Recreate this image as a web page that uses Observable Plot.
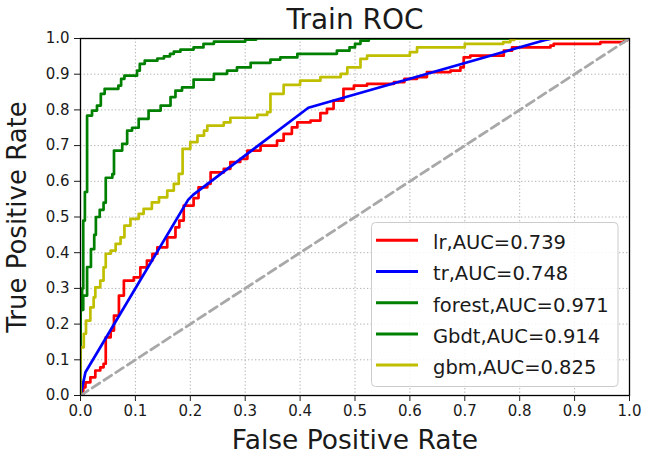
<!DOCTYPE html>
<html>
<head>
<meta charset="utf-8">
<script src="https://cdn.jsdelivr.net/npm/d3@7"></script>
<script src="https://cdn.jsdelivr.net/npm/@observablehq/plot@0.6"></script>
<style>
  html, body { margin: 0; padding: 0; background: #fff; }
  #chart { width: 648px; height: 457px; }
</style>
</head>
<body>
<div id="chart"></div>
<script>
// ---- data ----
const seriesNames = ["lr", "tr", "forest", "Gbdt", "gbm"];
const aucValues = [0.739, 0.748, 0.971, 0.914, 0.825];
const tickValues = [0.0, 0.1, 0.2, 0.3, 0.4, 0.5, 0.6, 0.7, 0.8, 0.9, 1.0];

// [fpr, tpr] pairs — step series list (rise position, new level)
const lrPoints = [[0,0],[0.005,0.023],[0.009,0.037],[0.018,0.051],[0.027,0.07],[0.036,0.079],[0.042,0.089],[0.046,0.163],[0.055,0.182],[0.061,0.224],[0.07,0.28],[0.079,0.322],[0.097,0.331],[0.109,0.359],[0.121,0.378],[0.131,0.397],[0.14,0.415],[0.158,0.443],[0.173,0.471],[0.18,0.49],[0.188,0.532],[0.206,0.553],[0.215,0.583],[0.231,0.593],[0.237,0.625],[0.261,0.635],[0.273,0.654],[0.291,0.663],[0.304,0.686],[0.328,0.70],[0.358,0.714],[0.37,0.733],[0.385,0.751],[0.395,0.765],[0.419,0.77],[0.437,0.791],[0.449,0.803],[0.461,0.826],[0.479,0.859],[0.498,0.868],[0.522,0.873],[0.571,0.878],[0.59,0.887],[0.613,0.892],[0.631,0.906],[0.674,0.91],[0.692,0.919],[0.698,0.947],[0.71,0.952],[0.771,0.966],[0.786,0.975],[0.856,0.98],[0.862,0.985],[0.947,0.99],[0.99,0.995],[0.996,1.0],[1,1]];
const trPoints = [[0,0],[0.009,0.065],[0.196,0.548],[0.205,0.562],[0.415,0.806],[0.845,0.995],[0.86,1.0],[1,1]];
const forestPoints = [[0,0],[0,0.24],[0.003,0.30],[0.005,0.49],[0.008,0.57],[0.012,0.784],[0.021,0.798],[0.03,0.812],[0.037,0.845],[0.044,0.859],[0.069,0.868],[0.074,0.887],[0.08,0.896],[0.103,0.91],[0.108,0.929],[0.117,0.938],[0.14,0.944],[0.152,0.95],[0.163,0.957],[0.17,0.963],[0.182,0.969],[0.206,0.975],[0.224,0.985],[0.243,0.991],[0.30,0.997],[0.32,1.0],[1,1]];
const gbdtPoints = [[0,0],[0,0.24],[0.005,0.28],[0.012,0.36],[0.019,0.41],[0.025,0.45],[0.028,0.50],[0.035,0.52],[0.042,0.54],[0.046,0.61],[0.058,0.62],[0.061,0.686],[0.076,0.705],[0.085,0.742],[0.094,0.75],[0.106,0.775],[0.124,0.798],[0.146,0.812],[0.164,0.836],[0.173,0.854],[0.185,0.863],[0.206,0.885],[0.243,0.901],[0.267,0.91],[0.285,0.919],[0.31,0.932],[0.346,0.941],[0.364,0.947],[0.395,0.957],[0.467,0.966],[0.49,0.975],[0.5,0.985],[0.51,0.994],[0.525,1.0],[1,1]];
const gbmPoints = [[0,0],[0,0.135],[0.006,0.173],[0.01,0.21],[0.018,0.247],[0.024,0.275],[0.027,0.303],[0.036,0.322],[0.042,0.359],[0.046,0.397],[0.055,0.406],[0.064,0.425],[0.073,0.443],[0.08,0.476],[0.091,0.495],[0.106,0.509],[0.115,0.523],[0.13,0.541],[0.143,0.555],[0.158,0.574],[0.17,0.593],[0.179,0.621],[0.186,0.691],[0.2,0.71],[0.213,0.728],[0.225,0.742],[0.231,0.756],[0.261,0.765],[0.273,0.778],[0.322,0.786],[0.34,0.794],[0.346,0.845],[0.37,0.87],[0.40,0.882],[0.437,0.892],[0.474,0.901],[0.486,0.919],[0.51,0.943],[0.522,0.952],[0.60,0.962],[0.613,0.975],[0.70,0.985],[0.77,0.99],[0.783,0.996],[0.79,1.0],[1,1]];
const chanceLine = [[0,0],[1,1]];

// ---- styles ----
const seriesColors = ["#ff0000", "#0000ff", "#008000", "#008000", "#bfbf00"];
const FONT = "DejaVu Sans";

const pointSets = [lrPoints, trPoints, forestPoints, gbdtPoints, gbmPoints];
const rowsFor = (i) => pointSets[i].map(([fpr, tpr]) => ({series: seriesNames[i], fpr, tpr}));

const lineMarks = seriesNames.map((name, i) =>
  Plot.line(rowsFor(i), {
    x: "fpr", y: "tpr",
    stroke: seriesColors[i],
    strokeWidth: 2.7,
    curve: name === "tr" ? "linear" : "step-after",
    clip: true
  })
);

const plot = Plot.plot({
  width: 648,
  height: 457,
  marginLeft: 80,
  marginRight: 19,
  marginTop: 38,
  marginBottom: 62,
  style: {fontFamily: FONT, color: "#1a1a1a", background: "#fff"},
  x: {domain: [0, 1]},
  y: {domain: [0, 1]},
  marks: [
    Plot.gridX(tickValues, {stroke: "#b0b0b0", strokeOpacity: 1, strokeWidth: 1, strokeDasharray: "1.3,2.2"}),
    Plot.gridY(tickValues, {stroke: "#b0b0b0", strokeOpacity: 1, strokeWidth: 1, strokeDasharray: "1.3,2.2"}),
    ...lineMarks,
    Plot.line(chanceLine, {x: d => d[0], y: d => d[1], stroke: "#a8a8a8", strokeWidth: 2.8, strokeDasharray: "9,5", clip: true}),
    Plot.frame({stroke: "#000", strokeWidth: 1.3}),
    Plot.axisX(tickValues, {tickFormat: d => d.toFixed(1), tickSize: 6, tickPadding: 4, fontSize: 15, label: null}),
    Plot.axisY(tickValues, {tickFormat: d => d.toFixed(1), tickSize: 6, tickPadding: 5, fontSize: 15, label: null}),
    Plot.text(["Train ROC"], {text: d => d, frameAnchor: "top", lineAnchor: "middle", textAnchor: "middle", dy: -18.5, fontSize: 28, fill: "#1a1a1a"}),
    Plot.text(["False Positive Rate"], {text: d => d, frameAnchor: "bottom", lineAnchor: "middle", textAnchor: "middle", dy: 45.5, fontSize: 26.5, fill: "#1a1a1a"}),
    Plot.text(["True Positive Rate"], {text: d => d, frameAnchor: "left", lineAnchor: "middle", textAnchor: "middle", dx: -63, rotate: -90, fontSize: 26, fill: "#1a1a1a"})
  ]
});

// ---- legend (inside the axes, lower right) ----
const svg = d3.select(plot);
const lg = svg.append("g").attr("font-family", FONT).attr("text-anchor", "start");
lg.append("rect")
  .attr("x", 371.5).attr("y", 222.5).attr("width", 246.5).attr("height", 164)
  .attr("rx", 4).attr("ry", 4)
  .attr("fill", "#fff").attr("fill-opacity", 0.85)
  .attr("stroke", "#cccccc").attr("stroke-width", 1);
seriesNames.forEach((name, i) => {
  const cy = 240.3 + i * 31.2;
  lg.append("line")
    .attr("x1", 376).attr("x2", 418).attr("y1", cy).attr("y2", cy)
    .attr("stroke", seriesColors[i]).attr("stroke-width", 3);
  lg.append("text")
    .attr("x", 433).attr("y", cy + 8.8)
    .attr("text-anchor", "start")
    .attr("font-size", 19.5).attr("fill", "#1a1a1a")
    .text(`${name},AUC=${aucValues[i].toFixed(3)}`);
});

document.getElementById("chart").append(plot);
</script>
</body>
</html>
